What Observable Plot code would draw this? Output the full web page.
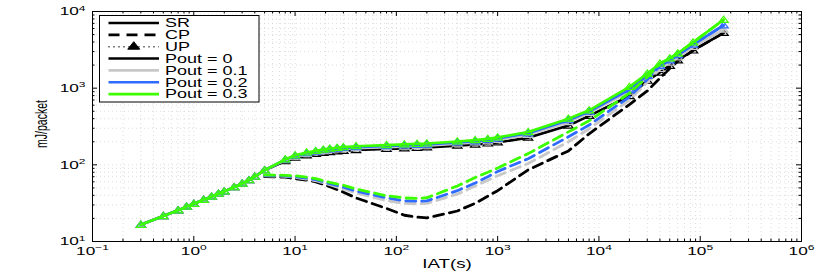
<!DOCTYPE html>
<html><head><meta charset="utf-8">
<script src="https://cdn.jsdelivr.net/npm/d3@7"></script>
<script src="https://cdn.jsdelivr.net/npm/@observablehq/plot@0.6"></script>
<style>html,body{margin:0;padding:0;background:#fff;} #chart{width:830px;height:273px;overflow:hidden;}</style>
</head><body><div id="chart"></div>
<script>
// ---- data (IAT in s, energy in mJ/packet) ----
const iat = [0.3,0.5,0.7,0.85,1,1.25,1.5,1.75,2,2.5,3,3.5,4,5,8,10,13,16,19,22,26,30,40,80,120,160,200,400,600,800,1000,2000,5000,8000,20000,30000,40000,50000,60000,85000,170000];
const srP0  = [16.5,21.5,25.5,28.5,31,35,38.5,42,45,51,57,63,70,85,112,124,133,139,143,147,150,152,156,161,164,167,169,178,184,190,196,226,325,435,790,1250,1600,1950,2300,3100,5250];
const srP01 = [16.5,21.5,25.5,28.5,31,35,38.5,42,45,51,57,63,70,85,115,128,139,146,151,155,159,161,165,170,173,176,178,189,196,203,211,246,360,475,900,1380,1780,2150,2530,3450,5800];
const srP02 = [16.5,21.5,25.5,28.5,31,35,38.5,42,45,51,57,63,70,85,117,131,142,149,155,159,163,166,170,176,179,182,184,196,203,211,220,258,382,495,960,1450,1950,2300,2700,3700,6600];
const srP03 = [16.5,21.5,25.5,28.5,31,35,38.5,42,45,51,57,63,70,85,118,133,145,152,158,163,167,170,175,181,185,188,190,202,210,218,228,268,400,515,1040,1550,2100,2450,2850,3950,7800];
// UP curves lie on top of the SR curves
const upP0  = srP0.slice();
const upP01 = srP01.slice();
const upP02 = srP02.slice();
const upP03 = srP03.slice();

const cpIat = [5,8,10,13,16,22,30,40,80,120,160,200,400,600,800,1000,2000,5000,8000,20000,30000,40000,50000,60000,85000,170000];
const cpP0  = [70,69,66,63,60,52,44,37,27,22,20.8,20.3,25,31.5,39,46,86,152,254,612,920,1350,1800,2250,3100,5250];
const cpP01 = [72,71,68.5,65,62,55,48.5,43,34,31.5,31,31.4,41.5,53,63,72,104,200,295,700,1200,1780,2150,2530,3450,5800];
const cpP02 = [73,72,70,67,64,57,51,45.5,37,34,33.5,33.8,46,58,70,82,120,232,330,770,1300,1950,2300,2700,3700,6600];
const cpP03 = [74,73,72,69,66,59,54,48.5,39.5,37,36.5,37.2,53,68.5,80,91,140,269,375,860,1400,2100,2450,2850,3950,7800];

const poutLabels = ["Pout = 0","Pout = 0.1","Pout = 0.2","Pout = 0.3"];
const poutColors = ["#000000","#c8c8c8","#2f6bff","#3cff00"];
const schemeLabels = ["SR","CP","UP"];
const xMajorTicks = [0.1,1,10,100,1000,10000,100000,1000000];
const yMajorTicks = [10,100,1000,10000];
const xTitle = "IAT(s)";
const yTitle = "mJ/packet";

// ---- layout ----
const W = 830, H = 273, mL = 92, mR = 29, mT = 11, mB = 32;
const innerW = W - mL - mR, innerH = H - mT - mB;
const SX = 1.5; // horizontal stretch of the original figure's text

const srSeries = [srP0, srP01, srP02, srP03];
const cpSeries = [cpP0, cpP01, cpP02, cpP03];
const upSeries = [upP0, upP01, upP02, upP03];
const rows = (xs, ys) => xs.map((x, i) => ({iat: x, e: ys[i]}));

const xAll = d3.scaleLog().domain([0.1, 1e6]).ticks();
const yAll = d3.scaleLog().domain([10, 1e4]).ticks();
const isMajor = v => Math.abs(Math.log10(v) - Math.round(Math.log10(v))) < 1e-9;
const xMinor = xAll.filter(v => !isMajor(v));
const yMinor = yAll.filter(v => !isMajor(v));
const xGrid = xAll.filter(v => v > 0.1 && v < 1e6);
const yGrid = yAll.filter(v => v > 10 && v < 1e4);

const wideTriangle = {
  draw(ctx, size) {
    const s = Math.sqrt(size / Math.PI);
    ctx.moveTo(0, -s);
    ctx.lineTo(1.3 * s, 0.7 * s);
    ctx.lineTo(-1.3 * s, 0.7 * s);
    ctx.closePath();
  }
};

const marks = [
  Plot.ruleX(xGrid, {x: d => d, stroke: "#cfcfcf", strokeWidth: 0.7, strokeDasharray: "1,3"}),
  Plot.ruleY(yGrid, {y: d => d, stroke: "#cfcfcf", strokeWidth: 0.7, strokeDasharray: "1,3"})
];
for (let k = 0; k < 4; k++) {
  const c = poutColors[k];
  marks.push(Plot.line(rows(iat, srSeries[k]), {x: "iat", y: "e", stroke: c, strokeWidth: 2.6}));
  marks.push(Plot.line(rows(cpIat, cpSeries[k]), {x: "iat", y: "e", stroke: c, strokeWidth: 2.8, strokeDasharray: "10,6"}));
  marks.push(Plot.line(rows(iat, upSeries[k]), {x: "iat", y: "e", stroke: c, strokeWidth: 1.5, strokeDasharray: "1,3"}));
  marks.push(Plot.dot(rows(iat, upSeries[k]), {x: "iat", y: "e", stroke: c, fill: "none", strokeWidth: 1.2, r: 3.6, symbol: wideTriangle}));
}
// inward ticks on all four sides
marks.push(
  Plot.ruleX(xMajorTicks, {x: d => d, insetTop: innerH - 5, stroke: "black"}),
  Plot.ruleX(xMajorTicks, {x: d => d, insetBottom: innerH - 5, stroke: "black"}),
  Plot.ruleX(xMinor, {x: d => d, insetTop: innerH - 2.5, stroke: "black"}),
  Plot.ruleX(xMinor, {x: d => d, insetBottom: innerH - 2.5, stroke: "black"}),
  Plot.ruleY(yMajorTicks, {y: d => d, insetRight: innerW - 5, stroke: "black"}),
  Plot.ruleY(yMajorTicks, {y: d => d, insetLeft: innerW - 5, stroke: "black"}),
  Plot.ruleY(yMinor, {y: d => d, insetRight: innerW - 2.5, stroke: "black"}),
  Plot.ruleY(yMinor, {y: d => d, insetLeft: innerW - 2.5, stroke: "black"}),
  Plot.frame({stroke: "black", strokeWidth: 1}),
  Plot.axisX({ticks: xMajorTicks, tickSize: 0, tickPadding: 5, label: null, fontSize: 11.5,
    tickFormat: d => "10^" + Math.round(Math.log10(d))}),
  Plot.axisY({ticks: yMajorTicks, tickSize: 0, tickPadding: 7, label: null, fontSize: 11.5,
    tickFormat: d => "10^" + Math.round(Math.log10(d))})
);

const chart = Plot.plot({
  width: W, height: H,
  marginLeft: mL, marginRight: mR, marginTop: mT, marginBottom: mB,
  x: {type: "log", domain: [0.1, 1e6], label: null},
  y: {type: "log", domain: [10, 1e4], label: null},
  style: {fontFamily: "'Liberation Sans', Arial, sans-serif", fontSize: "11.5px", background: "white", color: "black"},
  marks
});
document.getElementById("chart").appendChild(chart);

const svg = d3.select(chart);
// stretch helper around the text's anchor point
function stretch(el) {
  const x = +el.getAttribute("x") || 0, y = +el.getAttribute("y") || 0;
  const t = el.getAttribute("transform") || "";
  el.setAttribute("transform", `${t} translate(${x},${y}) scale(${SX},1) translate(${-x},${-y})`);
}
// superscript exponents for tick labels
svg.selectAll("text").each(function() {
  const m = (this.textContent || "").match(/^10\^(-?\d+)$/);
  if (!m) return;
  const exp = m[1].replace("-", "\u2212");
  while (this.firstChild) this.removeChild(this.firstChild);
  const ns = "http://www.w3.org/2000/svg";
  const a = document.createElementNS(ns, "tspan"); a.textContent = "10"; this.appendChild(a);
  const b = document.createElementNS(ns, "tspan"); b.textContent = exp;
  b.setAttribute("dy", "-0.55em"); b.setAttribute("font-size", "8px"); this.appendChild(b);
  stretch(this);
});

// axis titles
svg.append("text").attr("transform", `translate(447,264) scale(${SX},1)`)
  .attr("text-anchor", "middle").attr("dy", "0.35em").attr("font-size", 12.5).text(xTitle);
svg.append("text").attr("transform", `translate(41.5,124) scale(${SX},1) rotate(-90)`)
  .attr("text-anchor", "middle").attr("dy", "0.35em").attr("font-size", 10.5).text(yTitle);

// legend
const lg = svg.append("g");
lg.append("rect").attr("x", 99.5).attr("y", 15.5).attr("width", 159.5).attr("height", 86.5)
  .attr("fill", "white").attr("stroke", "black").attr("stroke-width", 1);
const lx1 = 108.5, lx2 = 159, ltx = 165, ly0 = 23, ldy = 11.85;
const entries = [
  {label: schemeLabels[0], color: "black", w: 2.6, dash: null},
  {label: schemeLabels[1], color: "black", w: 2.6, dash: "11,7"},
  {label: schemeLabels[2], color: "black", w: 1.5, dash: "1,4", tri: true},
  {label: poutLabels[0], color: poutColors[0], w: 2.6, dash: null},
  {label: poutLabels[1], color: poutColors[1], w: 2.6, dash: null},
  {label: poutLabels[2], color: poutColors[2], w: 2.6, dash: null},
  {label: poutLabels[3], color: poutColors[3], w: 2.6, dash: null}
];
entries.forEach((e, i) => {
  const y = ly0 + i * ldy;
  const ln = lg.append("line").attr("x1", lx1).attr("x2", lx2).attr("y1", y).attr("y2", y)
    .attr("stroke", e.color).attr("stroke-width", e.w);
  if (e.dash) ln.attr("stroke-dasharray", e.dash);
  if (e.tri) {
    const cx = (lx1 + lx2) / 2;
    lg.append("path").attr("d", `M${cx},${y - 5}L${cx + 6},${y + 2.5}L${cx - 6},${y + 2.5}Z`)
      .attr("fill", "black").attr("stroke", "black").attr("stroke-width", 1);
  }
  lg.append("text").attr("transform", `translate(${ltx},${y}) scale(${SX},1)`)
    .attr("text-anchor", "start").attr("dy", "0.36em").attr("font-size", 12).text(e.label);
});
</script>
</body></html>
